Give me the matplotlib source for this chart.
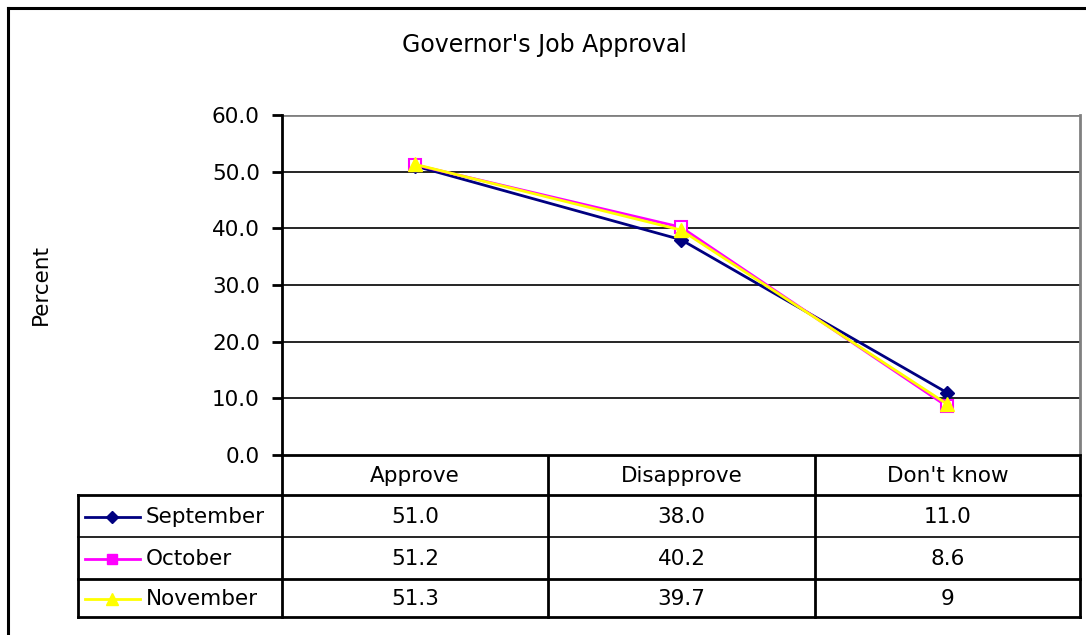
import matplotlib
matplotlib.use("Agg")
import matplotlib.pyplot as plt

plt.rcParams['font.family'] = ['DejaVu Sans']

title = "Governor's Job Approval"
categories = ["Approve", "Disapprove", "Don't know"]
series_names = ["September", "October", "November"]
september = [51.0, 38.0, 11.0]
october = [51.2, 40.2, 8.6]
november = [51.3, 39.7, 9]
table_text = [["51.0", "38.0", "11.0"],
              ["51.2", "40.2", "8.6"],
              ["51.3", "39.7", "9"]]
yticks = [0, 10, 20, 30, 40, 50, 60]

colors = ["#000080", "#FF00FF", "#FFFF00"]
markers = ["D", "s", "^"]
mfc = ["#000080", "white", "#FFFF00"]
msizes = [7.5, 8, 10]
FS = 15.5

W, H = 1086, 635
fig = plt.figure(figsize=(W / 100, H / 100), dpi=100)

# overlay axes in pixel coordinates
ov = fig.add_axes([0, 0, 1, 1])
ov.set_xlim(0, W)
ov.set_ylim(H, 0)
ov.axis('off')

# plot area
L, R, T, B = 282, 1080, 115, 455
ax = fig.add_axes([L / W, 1 - B / H, (R - L) / W, (B - T) / H])
ax.set_xlim(-0.5, 2.5)
ax.set_ylim(0, 60)
ax.set_yticks(yticks)
ax.set_yticklabels([f"{v:.1f}" for v in yticks], fontsize=FS)
ax.set_xticks([])
for v in yticks[1:-1]:
    ax.axhline(v, color='black', lw=1.2, zorder=1)
ax.axhline(60, color='#808080', lw=2, zorder=1)
ax.spines['top'].set_visible(False)
ax.spines['right'].set_color('#808080')
ax.spines['right'].set_linewidth(2)
ax.spines['left'].set_linewidth(2)
ax.spines['bottom'].set_linewidth(2)
ax.tick_params(axis='y', length=7, width=2, pad=9)
ax.set_ylabel("Percent", fontsize=FS)
ax.yaxis.set_label_coords(-0.29, 0.5)

data = [september, october, november]
x = list(range(len(categories)))
for d, c, m, f, s in zip(data, colors, markers, mfc, msizes):
    ax.plot(x, d, color=c, lw=2, marker=m, markersize=s, markerfacecolor=f,
            markeredgecolor=c, markeredgewidth=1.5 if m == 's' else 1, zorder=3)

# outer frame (left and top visible)
ov.plot([8, 8], [H + 5, 8], color='black', lw=2.2)
ov.plot([8, W + 5], [8, 8], color='black', lw=2.2)

ov.text(544, 45, title, ha='center', va='center', fontsize=17)

# table
col_edges = [L, 548, 815, R]
row_edges = [B, 495, 537, 579, 617]
TL = 78
for xe in col_edges:
    ov.plot([xe, xe], [B, row_edges[-1]], color='black', lw=2)
ov.plot([TL, TL], [row_edges[1], row_edges[-1]], color='black', lw=2)
ov.plot([TL, R], [row_edges[1], row_edges[1]], color='black', lw=2)
ov.plot([TL, R], [row_edges[2], row_edges[2]], color='black', lw=1.2)
ov.plot([TL, R], [row_edges[3], row_edges[3]], color='black', lw=2)
ov.plot([TL, R], [row_edges[4], row_edges[4]], color='black', lw=2)

for j, cat in enumerate(categories):
    cx = (col_edges[j] + col_edges[j + 1]) / 2
    ov.text(cx, (row_edges[0] + row_edges[1]) / 2 + 1, cat, ha='center', va='center', fontsize=FS)

for i, name in enumerate(series_names):
    cy = (row_edges[i + 1] + row_edges[i + 2]) / 2 + 1
    ov.plot([85, 140], [cy, cy], color=colors[i], lw=2)
    ov.plot([112], [cy], marker=markers[i], color=colors[i], markersize=msizes[i] - 1,
            markerfacecolor=colors[i], markeredgecolor=colors[i])
    ov.text(146, cy, name, ha='left', va='center', fontsize=FS)
    for j in range(len(categories)):
        cx = (col_edges[j] + col_edges[j + 1]) / 2
        ov.text(cx, cy, table_text[i][j], ha='center', va='center', fontsize=FS)

fig.savefig("out.png", dpi=100)
